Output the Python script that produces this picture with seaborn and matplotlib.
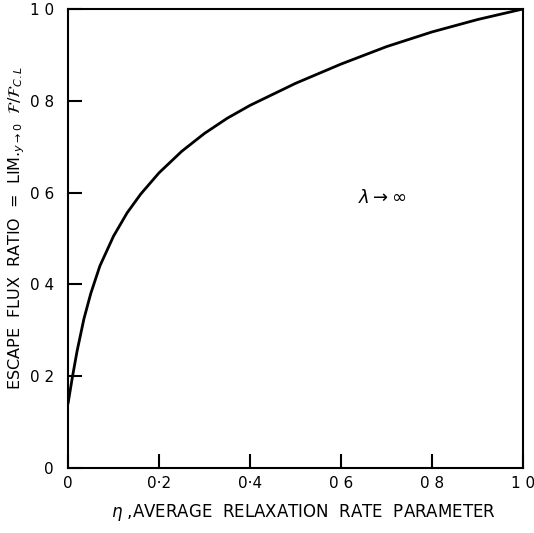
import matplotlib
matplotlib.use("Agg")
import matplotlib.pyplot as plt
import seaborn as sns
import pandas as pd

eta = [0.0, 0.01, 0.02, 0.035, 0.05, 0.07, 0.10, 0.13, 0.16, 0.20, 0.25, 0.30, 0.35,
       0.40, 0.50, 0.60, 0.70, 0.80, 0.90, 1.0]
flux_ratio = [0.14, 0.20, 0.255, 0.325, 0.38, 0.44, 0.505, 0.556, 0.597, 0.643, 0.690,
              0.729, 0.762, 0.790, 0.838, 0.880, 0.918, 0.950, 0.977, 1.0]
x_ticks = [0.0, 0.2, 0.4, 0.6, 0.8, 1.0]
x_tick_labels = ["0", "0·2", "0·4", "0 6", "0 8", "1 0"]
y_ticks = [0.0, 0.2, 0.4, 0.6, 0.8, 1.0]
y_tick_labels = ["0", "0 2", "0 4", "0 6", "0 8", "1 0"]

sns.set_style("ticks")
plt.rcParams['font.family'] = ['DejaVu Sans']
plt.rcParams['mathtext.fontset'] = 'dejavusans'
plt.rcParams['text.color'] = 'black'
plt.rcParams['axes.labelcolor'] = 'black'

df = pd.DataFrame({"eta": eta, "ratio": flux_ratio})

fig = plt.figure(figsize=(5.34, 5.33), dpi=100)
ax = fig.add_axes([68 / 534, 1 - 468 / 533, 455 / 534, 459 / 533])
sns.lineplot(data=df, x="eta", y="ratio", ax=ax, color="black", linewidth=2.0)

ax.set_xlim(0, 1)
ax.set_ylim(0, 1)
ax.set_xticks(x_ticks)
ax.set_xticklabels(x_tick_labels)
ax.set_yticks(y_ticks)
ax.set_yticklabels(y_tick_labels)
ax.tick_params(direction="in", length=10, width=1.5, labelsize=11, colors="black")
ax.tick_params(axis="y", pad=10)
ax.tick_params(axis="x", pad=6)
for s in ax.spines.values():
    s.set_linewidth(1.5)
    s.set_color("black")

ax.set_xlabel(r"$\eta$ ,AVERAGE  RELAXATION  RATE  PARAMETER", fontsize=12)
ax.xaxis.set_label_coords((303 - 68) / 455, (468 - 502) / 459)
ax.set_ylabel(r"ESCAPE  FLUX  RATIO  =  LIM.$_{y\rightarrow 0}$  $\mathcal{F}/\mathcal{F}_{C.L}$",
              fontsize=11.5)
ax.yaxis.set_label_coords((27 - 68) / 455, (468 - 228) / 459)
ax.text(0.69, 0.588, r"$\lambda\rightarrow\infty$", fontsize=13, ha="center", va="center")

fig.savefig("out.png", dpi=100)
